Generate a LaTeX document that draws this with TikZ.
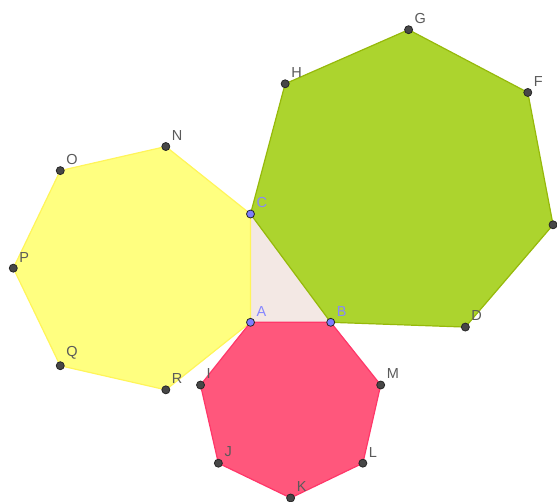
\documentclass[tikz,border=0pt]{standalone}
\usepackage{fontspec}
\setsansfont{Liberation Sans}
\usetikzlibrary{calc}

\definecolor{yelfill}{RGB}{255,255,128}
\definecolor{yelline}{RGB}{255,245,90}
\definecolor{grnfill}{RGB}{172,212,46}
\definecolor{grnline}{RGB}{150,185,10}
\definecolor{pnkfill}{RGB}{255,87,124}
\definecolor{pnkline}{RGB}{255,55,105}
\definecolor{trifill}{RGB}{243,232,228}
\definecolor{ptblue}{RGB}{125,125,255}
\definecolor{lblgray}{RGB}{90,90,90}
\definecolor{lblblue}{RGB}{135,135,255}

\begin{document}
\begin{tikzpicture}[
        x=1pt, y=1pt,
        label distance=4pt,
        pt/.style={circle, draw=black!85, fill=black!72, line width=0.8pt, inner sep=0pt, minimum size=8pt},
        ptb/.style={pt, fill=ptblue},
        lbl/.style={font=\sffamily\fontsize{14.5}{14.5}\selectfont, text=lblgray, inner sep=0pt},
        lblb/.style={lbl, text=lblblue}
    ]
    \useasboundingbox (0,0) rectangle (557,-501);

    % triangle
    \coordinate (A) at (250.5,-322.3);
    \coordinate (B) at (330.7,-322.3);
    \coordinate (C) at (250.5,-214);

    % heptagon on AB
    \coordinate (M) at ($(B)!1!128.571:(A)$);
    \coordinate (L) at ($(M)!1!128.571:(B)$);
    \coordinate (K) at ($(L)!1!128.571:(M)$);
    \coordinate (J) at ($(K)!1!128.571:(L)$);
    \coordinate (I) at ($(J)!1!128.571:(K)$);

    % heptagon on BC
    \coordinate (H) at ($(C)!1!128.571:(B)$);
    \coordinate (G) at ($(H)!1!128.571:(C)$);
    \coordinate (F) at ($(G)!1!128.571:(H)$);
    \coordinate (E) at ($(F)!1!128.571:(G)$);
    \coordinate (D) at ($(E)!1!128.571:(F)$);

    % heptagon on CA
    \coordinate (R) at ($(A)!1!128.571:(C)$);
    \coordinate (Q) at ($(R)!1!128.571:(A)$);
    \coordinate (P) at ($(Q)!1!128.571:(R)$);
    \coordinate (O) at ($(P)!1!128.571:(Q)$);
    \coordinate (N) at ($(O)!1!128.571:(P)$);

    \fill[trifill] (A) -- (B) -- (C) -- cycle;
    \filldraw[fill=yelfill, draw=yelline, line width=1.2pt, line join=round] (C) -- (A) -- (R) -- (Q) -- (P) -- (O) -- (N) -- cycle;
    \filldraw[fill=grnfill, draw=grnline, line width=1.2pt, line join=round] (B) -- (C) -- (H) -- (G) -- (F) -- (E) -- (D) -- cycle;
    \filldraw[fill=pnkfill, draw=pnkline, line width=1.2pt, line join=round] (A) -- (B) -- (M) -- (L) -- (K) -- (J) -- (I) -- cycle;

    % points
    \foreach \v in {D,F,G,H,I,J,K,L,M,N,O,P,Q,R}
        \node[pt, label={[lbl]45:\v}] (p\v) at (\v) {};
    \node[pt] (pE) at (E) {};
    \foreach \v in {A,B,C}
        \node[ptb, label={[lblb]45:\v}] (p\v) at (\v) {};
\end{tikzpicture}
\end{document}
